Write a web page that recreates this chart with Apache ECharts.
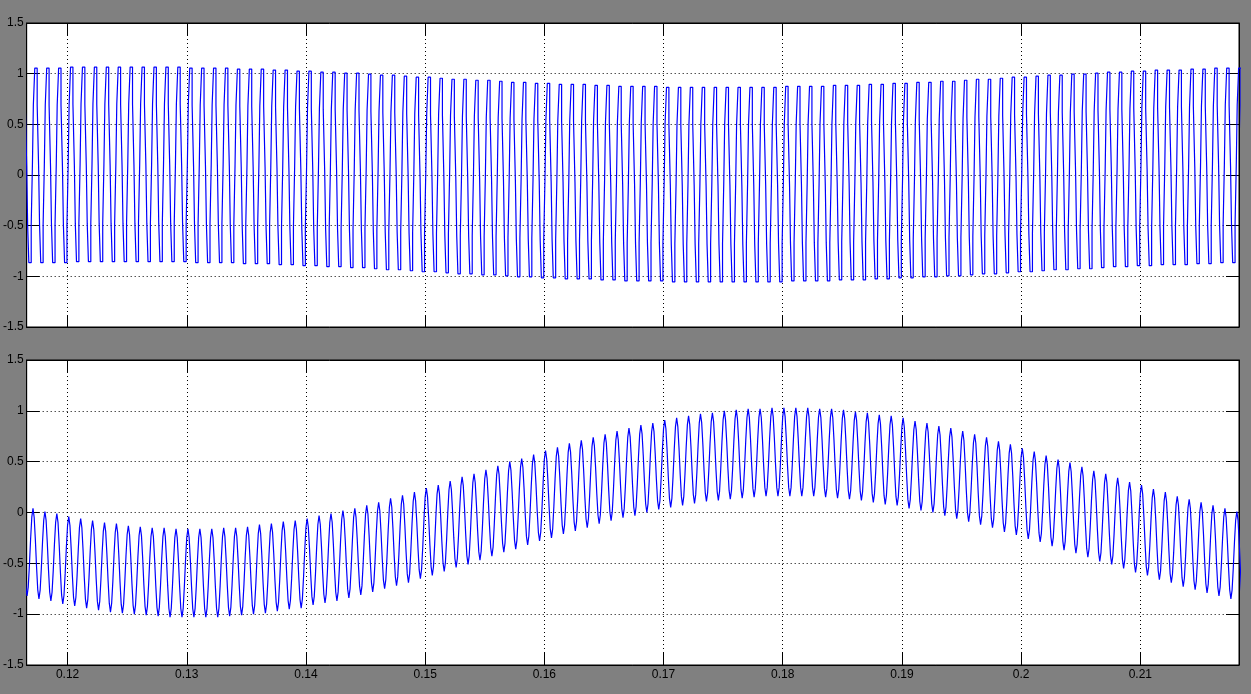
<!DOCTYPE html>
<html><head><meta charset="utf-8">
<script src="https://cdn.jsdelivr.net/npm/echarts@6/dist/echarts.min.js"></script>
<style>html,body{margin:0;padding:0;background:#808080;overflow:hidden}#chart{width:1251px;height:694px}</style>
</head><body><div id="chart"></div>
<script>
// ---- axis data ----
const xTickValues = [0.12, 0.13, 0.14, 0.15, 0.16, 0.17, 0.18, 0.19, 0.20, 0.21];
const xRange = [0.11657, 0.21828];
const yRange = [-1.5, 1.5];
const yInterval = 0.5;

// ---- sample timing (simulation period of the fast waveform) ----
const period = 0.001;
const topFirstPeak = 0.11635;   // cycle k = -1
const botFirstPeak = 0.1161;    // cycle k = -1

// ---- top plot: mid level of each cycle's staircase (k = -1 .. 101) ----
const topCenters = [
  0.09, 0.09, 0.09, 0.09,
  0.10, 0.10, 0.10, 0.10, 0.10, 0.10, 0.10, 0.10, 0.10, 0.10,
  0.09, 0.09, 0.09, 0.09,
  0.08, 0.08, 0.08,
  0.07, 0.07, 0.06, 0.06, 0.05, 0.05, 0.04, 0.04,
  0.03, 0.02, 0.02, 0.01, 0.00, 0.00,
  -0.01, -0.02, -0.02, -0.03, -0.03, -0.04, -0.05, -0.05, -0.06, -0.06,
  -0.07, -0.07, -0.07, -0.08, -0.08, -0.09, -0.09, -0.09, -0.09,
  -0.10, -0.10, -0.10, -0.10, -0.10, -0.10, -0.10, -0.10, -0.10, -0.10,
  -0.09, -0.09, -0.09, -0.09,
  -0.08, -0.08, -0.08, -0.07, -0.07, -0.06, -0.06, -0.05, -0.05, -0.04, -0.04,
  -0.03, -0.02, -0.02, -0.01, 0.00, 0.00,
  0.01, 0.02, 0.02, 0.03, 0.03, 0.04, 0.05, 0.05, 0.06, 0.06,
  0.07, 0.07, 0.07, 0.08, 0.08, 0.09, 0.09, 0.09
];
// staircase within one cycle: start of each step (fraction of period from peak centre) and its level above the mid level
const topStepPhase = [-0.1, 0.1, 0.22, 0.30, 0.4, 0.6, 0.70, 0.78];
const topStepLevel = [0.965, 0.60, 0.0, -0.58, -0.955, -0.58, 0.0, 0.60];

// ---- bottom plot: peak and trough of each fast cycle ----
const botMax = [
  0.07, 0.04, 0.01, -0.01, -0.04, -0.06, -0.08, -0.10, -0.11, -0.13, -0.14,
  -0.15, -0.15, -0.16, -0.16, -0.16, -0.16, -0.15, -0.15, -0.14, -0.12,
  -0.11, -0.09, -0.08, -0.06, -0.03, -0.01, 0.02, 0.04, 0.07, 0.10,
  0.14, 0.17, 0.20, 0.24, 0.27, 0.31, 0.35, 0.38, 0.42, 0.46,
  0.50, 0.53, 0.57, 0.61, 0.64, 0.68, 0.71, 0.74, 0.77, 0.80,
  0.83, 0.86, 0.88, 0.91, 0.93, 0.95, 0.97, 0.98, 1.00, 1.01,
  1.02, 1.02, 1.03, 1.03, 1.03, 1.03, 1.02, 1.02, 1.01, 0.99,
  0.98, 0.96, 0.95, 0.93, 0.90, 0.88, 0.85, 0.83, 0.80, 0.77,
  0.74, 0.70, 0.67, 0.63, 0.60, 0.56, 0.52, 0.49, 0.45, 0.41,
  0.38, 0.34, 0.30, 0.27, 0.23, 0.20, 0.16, 0.13, 0.10, 0.07,
  0.04, 0.01, -0.01
];
const botMin = [
  -0.82, -0.85, -0.87, -0.90, -0.92, -0.94, -0.96, -0.98, -0.99, -1.00, -1.01,
  -1.02, -1.03, -1.03, -1.03, -1.03, -1.03, -1.02, -1.01, -1.00, -0.99,
  -0.97, -0.95, -0.94, -0.91, -0.89, -0.87, -0.84, -0.81, -0.78, -0.75,
  -0.72, -0.69, -0.65, -0.62, -0.58, -0.54, -0.51, -0.47, -0.43, -0.39,
  -0.36, -0.32, -0.28, -0.25, -0.21, -0.18, -0.15, -0.11, -0.08, -0.05,
  -0.03, 0.00, 0.03, 0.05, 0.07, 0.09, 0.11, 0.12, 0.13, 0.14,
  0.15, 0.16, 0.16, 0.16, 0.16, 0.16, 0.15, 0.14, 0.13, 0.12,
  0.10, 0.08, 0.07, 0.04, 0.02, 0.00, -0.03, -0.06, -0.09, -0.12,
  -0.15, -0.19, -0.22, -0.26, -0.29, -0.33, -0.37, -0.40, -0.44, -0.48,
  -0.51, -0.55, -0.59, -0.62, -0.66, -0.69, -0.73, -0.76, -0.79, -0.82,
  -0.85, -0.87
];
// held samples within one cycle, 0 = trough, 1 = peak
const botShape = [1, 0.9, 0.65, 0.35, 0.1, 0, 0.1, 0.35, 0.65, 0.9];

// ---- build series tables ----
const topData = [];
topCenters.forEach((c, k) => {
  const t0 = topFirstPeak + k * period;
  topStepPhase.forEach((p, j) => topData.push([t0 + p * period, c + topStepLevel[j]]));
});
const botData = [];
botMin.forEach((mn, k) => {
  const t0 = botFirstPeak + k * period;
  botShape.forEach((s, i) => {
    const hi = i <= 5 ? botMax[k] : botMax[k + 1];
    botData.push([t0 + i * period / botShape.length, mn + s * (hi - mn)]);
  });
});

// ---- chart ----
const chart = echarts.init(document.getElementById('chart'), null, {renderer: 'canvas'});
const fontBase = {color: '#000', fontSize: 12, fontFamily: 'Liberation Sans, Arial, sans-serif'};
const grids = [
  {left: 23, top: 23, width: 1216, height: 304},
  {left: 23, top: 360, width: 1216, height: 305}
].map(g => Object.assign(g, {show: true, backgroundColor: '#fff', borderColor: '#000', borderWidth: 1, containLabel: false}));

const dotted = {show: true, lineStyle: {color: '#000', width: 1, type: [1, 3]}};
const axLine = {show: true, onZero: false, lineStyle: {color: '#000', width: 1}};
const xAxes = [], yAxes = [];
[0, 1].forEach(g => {
  xAxes.push({
    gridIndex: g, type: 'value', position: 'bottom', min: xRange[0], max: xRange[1], splitNumber: 10,
    axisLine: axLine,
    axisTick: {show: true, inside: true, length: 12, customValues: xTickValues, lineStyle: {color: '#000', width: 1}},
    axisLabel: Object.assign({show: g === 1, margin: 4, customValues: xTickValues, formatter: v => String(+v.toFixed(4))}, fontBase),
    splitLine: dotted
  });
  xAxes.push({
    gridIndex: g, type: 'value', position: 'top', min: xRange[0], max: xRange[1], splitNumber: 10,
    axisLine: axLine,
    axisTick: {show: true, inside: true, length: 12, customValues: xTickValues, lineStyle: {color: '#000', width: 1}},
    axisLabel: {show: false}, splitLine: {show: false}
  });
  yAxes.push({
    gridIndex: g, type: 'value', position: 'left', min: yRange[0], max: yRange[1], interval: yInterval,
    axisLine: axLine,
    axisTick: {show: true, inside: true, length: 13, lineStyle: {color: '#000', width: 1}},
    axisLabel: Object.assign({show: true, margin: 3}, fontBase),
    splitLine: dotted
  });
  yAxes.push({
    gridIndex: g, type: 'value', position: 'right', min: yRange[0], max: yRange[1], interval: yInterval,
    axisLine: axLine,
    axisTick: {show: true, inside: true, length: 13, lineStyle: {color: '#000', width: 1}},
    axisLabel: {show: false}, splitLine: {show: false}
  });
});

chart.setOption({
  backgroundColor: '#808080',
  animation: false,
  grid: grids,
  xAxis: xAxes,
  yAxis: yAxes,
  series: [
    {type: 'line', xAxisIndex: 0, yAxisIndex: 0, data: topData, step: 'end', showSymbol: false, symbol: 'none',
     lineStyle: {color: '#0000ff', width: 1.2}, clip: true, z: 3},
    {type: 'line', xAxisIndex: 2, yAxisIndex: 2, data: botData, step: 'end', showSymbol: false, symbol: 'none',
     lineStyle: {color: '#0000ff', width: 1.2}, clip: true, z: 3}
  ]
});
</script></body></html>
